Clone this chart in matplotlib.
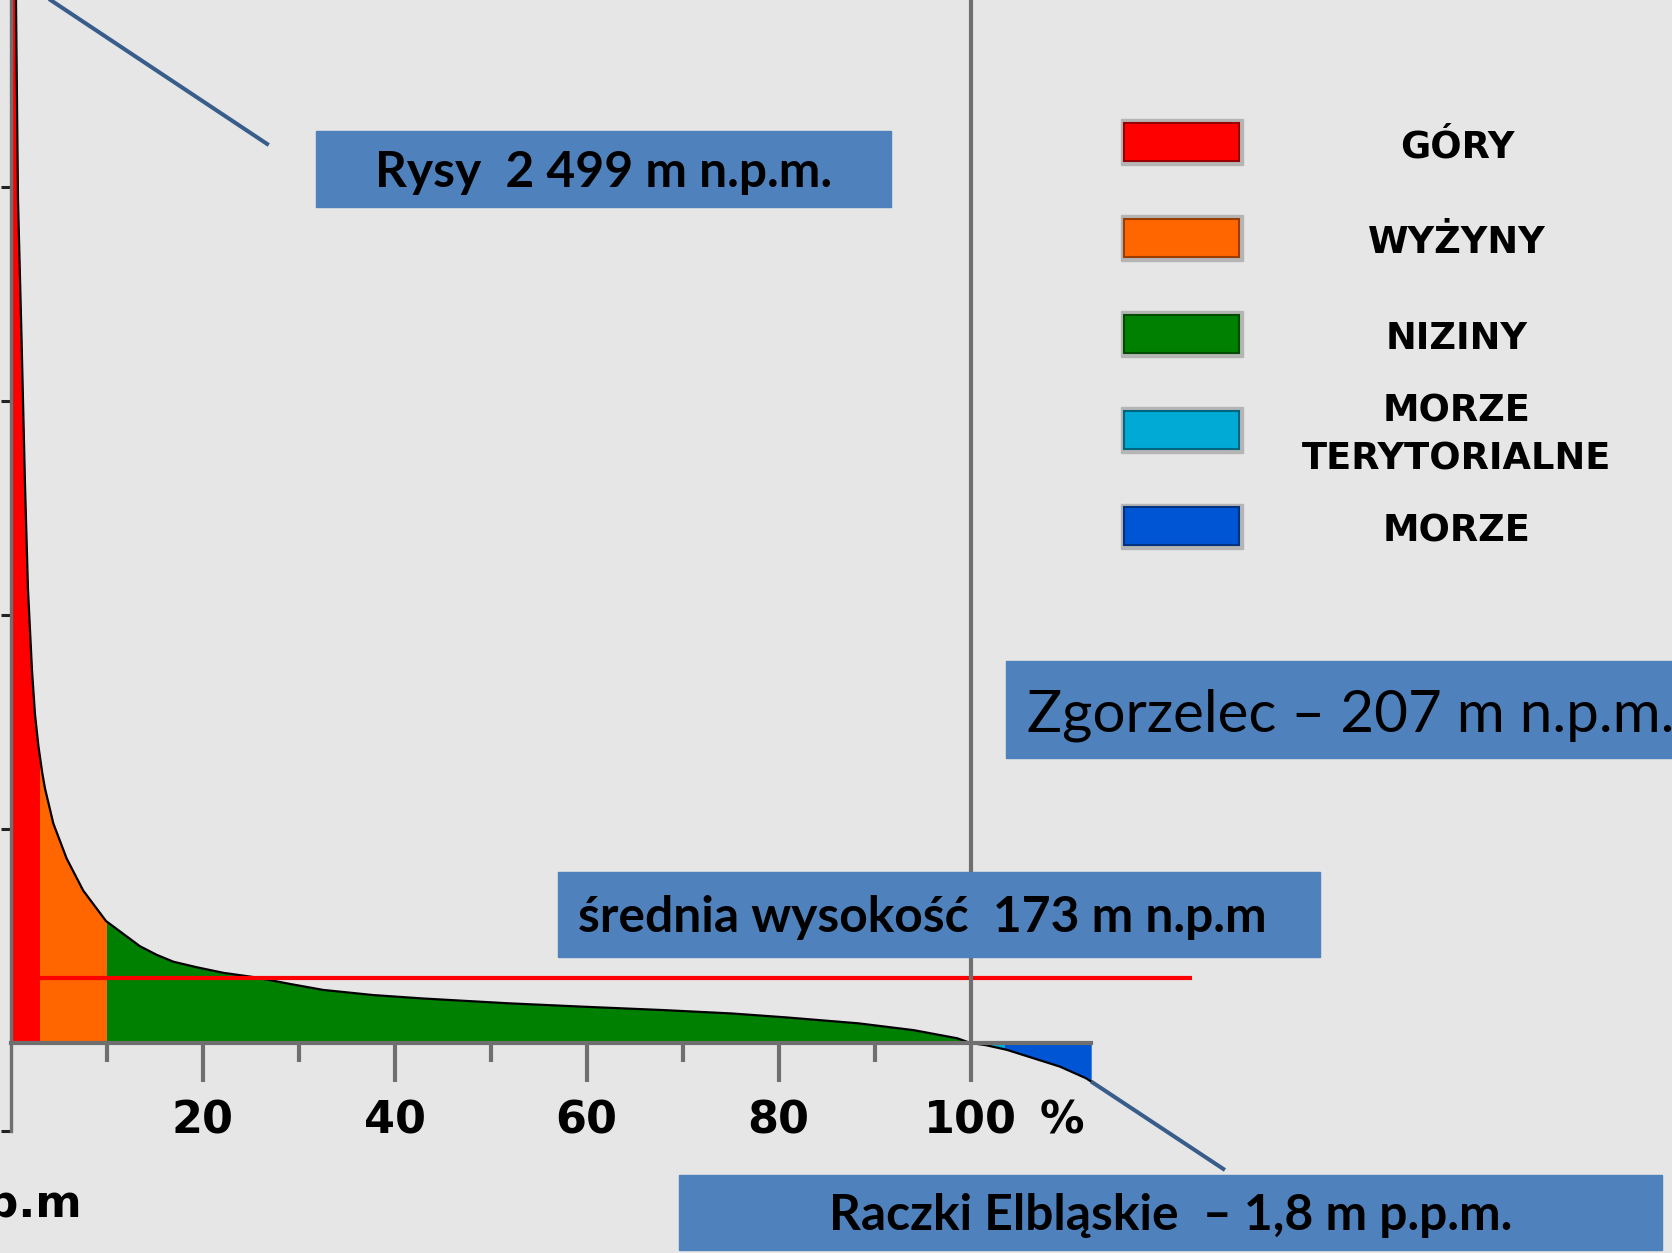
import matplotlib
matplotlib.use("Agg")
import matplotlib.pyplot as plt
import matplotlib.colors as mcolors
from matplotlib.patches import Rectangle
from matplotlib.transforms import offset_copy

# hypsometric curve of Poland (% of area, metres)
PCT = [0, 0.57, 0.78, 1.15, 1.51, 1.82, 2.24, 2.55, 2.90, 3.30, 3.59, 4.46,
       5.85, 7.58, 9.95, 11.75, 13.49, 15.23, 16.96, 19.40, 22.17, 25.65,
       29.11, 32.58, 37.79, 43.0, 51.67, 59.50, 67.94, 75.15, 80.71, 88.32,
       94.09, 98.63, 100, 101.6, 103.8, 109.3, 112.0, 112.57]
HEIGHT = [2499, 2437, 1970, 1645, 1304, 1060, 870, 768, 695, 632, 595, 513,
          431, 356, 285, 255, 226, 206, 190, 177, 164, 153, 138, 124, 112,
          104, 93, 85, 77, 69, 60, 46, 30, 11, 0, -5, -16, -55, -82, -90]

ZONE_EDGES = [0, 3.1, 10.0, 100, 103.6, 112.57]
ZONE_LABELS = ["GÓRY", "WYŻYNY", "NIZINY", "MORZE\nTERYTORIALNE", "MORZE"]
ZONE_COLORS = ["#ff0000", "#ff6600", "#008000", "#00aad4", "#0055d4"]

MEAN_LINE_LEVEL = 152          # where the red line sits in the picture
MEAN_LINE_SPAN = (3.07, 123.1)

X_MAJOR = [20, 40, 60, 80, 100]
X_MAJOR_LABELS = ["20", "40", "60", "80", "100"]
X_MINOR = [10, 30, 50, 70, 90]
Y_TICKS = [-205, 500, 1000, 1500, 2000]

BOX_TEXTS = {
    "rysy": "Rysy  2 499 m n.p.m.",
    "zgorzelec": "Zgorzelec – 207 m n.p.m.",
    "mean": "średnia wysokość  173 m n.p.m",
    "raczki": "Raczki Elbląskie  – 1,8 m p.p.m.",
}

BG = "#e6e6e6"
BOX_BLUE = "#4f81bd"
LEADER = "#385d8a"
AXIS_GREY = "#6f6f6f"

W, H = 1672, 1253

fig = plt.figure(figsize=(W / 100, H / 100), dpi=100, facecolor=BG)
ax = fig.add_axes([0, 0, 1, 1])
ax.set_facecolor(BG)
ax.set_xlim(-1.094, 173.07)
ax.set_ylim(-490.6, 2436.9)

# -------------------------
# coloured zones under the curve
# -------------------------
for lo, hi, col in zip(ZONE_EDGES[:-1], ZONE_EDGES[1:], ZONE_COLORS):
    poly = ax.fill_between(PCT, HEIGHT, 0, color=col, lw=0, zorder=1)
    clip = Rectangle((lo, -1000), hi - lo, 5000, transform=ax.transData)
    poly.set_clip_path(clip)

ax.plot(PCT, HEIGHT, color="black", lw=1.6, zorder=2)
ax.hlines(MEAN_LINE_LEVEL, *MEAN_LINE_SPAN, color="red", lw=3, zorder=2.2)
ax.vlines(100, 0, 2436.9, color=AXIS_GREY, lw=3, zorder=3)

# -------------------------
# axes
# -------------------------
for s in ["top", "right"]:
    ax.spines[s].set_visible(False)
ax.spines["left"].set_position(("data", 0))
ax.spines["left"].set_bounds(Y_TICKS[0], 2436.9)
ax.spines["left"].set_color(AXIS_GREY)
ax.spines["left"].set_linewidth(2.4)
ax.spines["bottom"].set_position(("data", 0))
ax.spines["bottom"].set_bounds(0, PCT[-1])
ax.spines["bottom"].set_color(AXIS_GREY)
ax.spines["bottom"].set_linewidth(3)

ax.set_xticks(X_MAJOR)
ax.set_xticklabels(X_MAJOR_LABELS, fontsize=32, fontweight="bold",
                   family="DejaVu Sans")
ax.set_xticks(X_MINOR, minor=True)
ax.tick_params(axis="x", which="major", length=28, width=3,
               color=AXIS_GREY, pad=13, direction="out")
ax.tick_params(axis="x", which="minor", length=14, width=3,
               color=AXIS_GREY, direction="out")
ax.set_yticks(Y_TICKS)
ax.set_yticklabels([])
ax.tick_params(axis="y", length=7, width=2.2, color="#222222",
               direction="out")

pct_trans = offset_copy(ax.transData, fig=fig, x=0, y=-41, units="points")
ax.text(109.5, 0, "%", transform=pct_trans, ha="center", va="top",
        fontsize=32, fontweight="bold", family="DejaVu Sans")
ax.text(7.4, -406.5, "m n.p.m", ha="right", va="baseline",
        fontsize=32, fontweight="bold", family="DejaVu Sans")

# leader lines from the boxes
ax.plot([PCT[0], 26.9], [HEIGHT[0], 2098], color=LEADER, lw=2.9,
        solid_capstyle="butt", zorder=4, clip_on=False)
ax.plot([PCT[-1], 126.5], [HEIGHT[-1], -296.7], color=LEADER, lw=2.9,
        solid_capstyle="butt", zorder=4)


# -------------------------
# boxes and legend (pixel layout of the slide)
# -------------------------
def add_rect(left, top, right, bottom, **kw):
    fig.add_artist(Rectangle((left / W, 1 - bottom / H), (right - left) / W,
                             (bottom - top) / H, transform=fig.transFigure,
                             **kw))


def add_text(x, y, s, **kw):
    fig.text(x / W, 1 - y / H, s, **kw)


add_rect(316, 131, 891, 207, color=BOX_BLUE, zorder=5)
add_text(603.5, 186.7, BOX_TEXTS["rysy"], ha="center", va="baseline",
         fontsize=35.8, fontweight="bold", family="Lato", zorder=6)

add_rect(1006, 661, 1700, 758, color=BOX_BLUE, zorder=5)
add_text(1027, 731, BOX_TEXTS["zgorzelec"], ha="left", va="baseline",
         fontsize=42, family="Lato", zorder=6)

add_rect(558, 872, 1320, 957, color=BOX_BLUE, zorder=5)
add_text(578, 931.7, BOX_TEXTS["mean"], ha="left", va="baseline",
         fontsize=35.8, fontweight="bold", family="Lato", zorder=6)

add_rect(679, 1175, 1661.5, 1250, color=BOX_BLUE, zorder=5)
add_text(1171, 1230, BOX_TEXTS["raczki"], ha="center", va="baseline",
         fontsize=35.8, fontweight="bold", family="Lato", zorder=6)

for i, (label, col) in enumerate(zip(ZONE_LABELS, ZONE_COLORS)):
    top = 122.7 + i * 96.1
    edge = [c * 0.6 for c in mcolors.to_rgb(col)]
    add_rect(1120.5, top - 3.5, 1242.5, top + 42, color="#b5b5b5", zorder=5)
    add_rect(1124, top, 1239, top + 38, facecolor=col, edgecolor=edge,
             lw=1.5, zorder=6)
    add_text(1457, top + 24, label, ha="center", va="center",
             multialignment="center", linespacing=1.41, fontsize=26.5,
             fontweight="bold", family="DejaVu Sans", zorder=6)

fig.savefig("out.png", dpi=100, facecolor=BG)
